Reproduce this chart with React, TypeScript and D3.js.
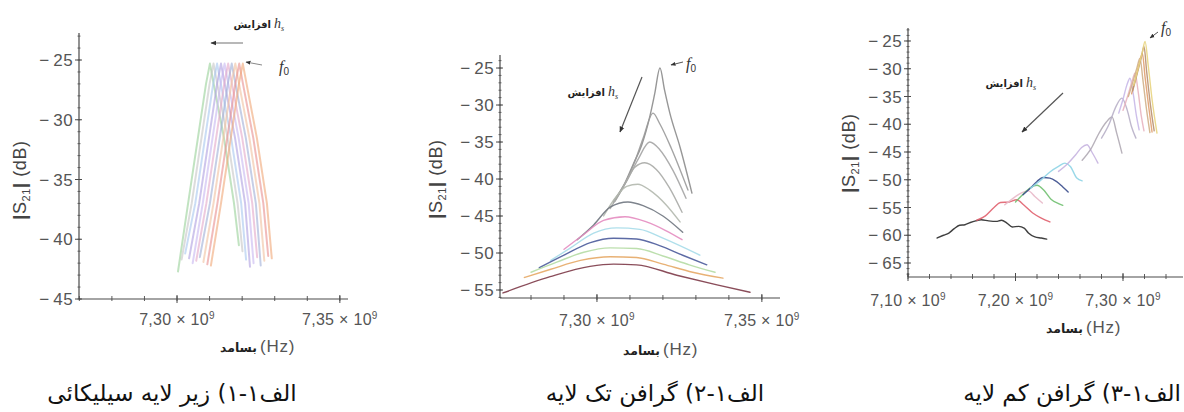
import React from 'react';
import * as d3 from 'd3';

// ---- panel 1: silicon substrate (resonance shifts left with h_s) ----
const p1Colors = ['#98d098', '#c4c4c4', '#a6c6ee', '#ae9ee0', '#c6b6f0', '#e2a6c8', '#9eaed6', '#f0c09e', '#e88e8e', '#f0a676'];
const p1Freqs = [
  [7.3003, 7.3034, 7.3067, 7.3089, 7.3101, 7.3116, 7.3144, 7.3175, 7.3190],
  [7.3014, 7.3045, 7.3078, 7.3100, 7.3112, 7.3127, 7.3155, 7.3186, 7.3201],
  [7.3025, 7.3056, 7.3089, 7.3111, 7.3123, 7.3138, 7.3166, 7.3197, 7.3212],
  [7.3037, 7.3068, 7.3101, 7.3123, 7.3135, 7.3150, 7.3178, 7.3209, 7.3224],
  [7.3048, 7.3079, 7.3112, 7.3134, 7.3146, 7.3161, 7.3189, 7.3220, 7.3235],
  [7.3059, 7.3090, 7.3123, 7.3145, 7.3157, 7.3172, 7.3200, 7.3231, 7.3246],
  [7.3070, 7.3101, 7.3134, 7.3156, 7.3168, 7.3183, 7.3211, 7.3242, 7.3257],
  [7.3081, 7.3112, 7.3145, 7.3167, 7.3179, 7.3194, 7.3222, 7.3253, 7.3268],
  [7.3093, 7.3124, 7.3157, 7.3179, 7.3191, 7.3206, 7.3234, 7.3265, 7.3280],
  [7.3104, 7.3135, 7.3168, 7.3190, 7.3202, 7.3217, 7.3245, 7.3276, 7.3291],
];
const p1Levels = [
  [-42.7, -37.0, -31.0, -27.0, -25.3, -27.5, -31.5, -37.0, -40.5],
  [-41.7, -37.0, -31.0, -27.0, -25.3, -27.5, -31.5, -37.0, -41.0],
  [-41.2, -37.0, -31.0, -27.0, -25.3, -27.5, -31.5, -37.0, -41.7],
  [-41.6, -37.0, -31.0, -27.0, -25.3, -27.5, -31.5, -37.0, -42.3],
  [-42.0, -37.0, -31.0, -27.0, -25.3, -27.5, -31.5, -37.0, -42.0],
  [-41.8, -37.0, -31.0, -27.0, -25.3, -27.5, -31.5, -37.0, -41.5],
  [-41.5, -37.0, -31.0, -27.0, -25.3, -27.5, -31.5, -37.0, -42.2],
  [-41.9, -37.0, -31.0, -27.0, -25.3, -27.5, -31.5, -37.0, -41.8],
  [-42.1, -37.0, -31.0, -27.0, -25.3, -27.5, -31.5, -37.0, -41.4],
  [-42.2, -37.0, -31.0, -27.0, -25.3, -27.5, -31.5, -37.0, -41.6],
];
const p1YTicks = [-25, -30, -35, -40, -45];
const p1XTicks = [7.30, 7.35];

// ---- panel 2: single layer graphene ----
const p2Colors = ['#8c8c8c', '#9a9a9a', '#a4a4a4', '#a9aaa6', '#b3b8ae', '#6f7580', '#e48cc0', '#a6dbe9', '#4b5b9b', '#b5dca4', '#e6a866', '#7d3a48'];
const p2Freqs = [
  [7.3050, 7.3085, 7.3110, 7.3135, 7.3160, 7.3175, 7.3191, 7.3205, 7.3221, 7.3252, 7.3288],
  [7.3055, 7.3090, 7.3115, 7.3140, 7.3170, 7.3190, 7.3225, 7.3276],
  [7.3050, 7.3090, 7.3125, 7.3160, 7.3190, 7.3230, 7.3270],
  [7.3040, 7.3085, 7.3115, 7.3145, 7.3180, 7.3220, 7.3258],
  [7.3020, 7.3060, 7.3090, 7.3124, 7.3160, 7.3210, 7.3252],
  [7.2940, 7.2990, 7.3040, 7.3094, 7.3140, 7.3200, 7.3260],
  [7.2900, 7.2960, 7.3020, 7.3085, 7.3150, 7.3210, 7.3258],
  [7.2860, 7.2920, 7.2990, 7.3060, 7.3130, 7.3200, 7.3312],
  [7.2825, 7.2900, 7.2980, 7.3050, 7.3120, 7.3190, 7.3260, 7.3333],
  [7.2800, 7.2880, 7.2960, 7.3040, 7.3120, 7.3200, 7.3280, 7.3358],
  [7.2780, 7.2860, 7.2950, 7.3040, 7.3120, 7.3200, 7.3290, 7.3382],
  [7.2715, 7.2858, 7.2979, 7.3050, 7.3120, 7.3242, 7.3364, 7.3464],
];
const p2Levels = [
  [-43.0, -40.5, -38.0, -35.5, -31.6, -28.5, -25.0, -28.0, -31.1, -35.7, -41.9],
  [-43.0, -40.2, -37.6, -34.5, -31.1, -32.5, -35.8, -41.5],
  [-43.2, -40.3, -37.3, -35.0, -36.0, -38.8, -42.6],
  [-44.0, -40.6, -38.4, -37.8, -38.7, -41.2, -44.5],
  [-45.0, -42.3, -41.0, -40.7, -41.5, -43.5, -45.8],
  [-48.2, -46.2, -43.8, -43.1, -43.6, -45.0, -47.2],
  [-49.5, -47.5, -45.6, -45.1, -45.8, -47.0, -48.2],
  [-51.0, -49.3, -47.3, -46.6, -46.8, -48.0, -50.3],
  [-52.0, -50.3, -48.6, -48.0, -48.1, -49.0, -50.3, -51.6],
  [-52.6, -51.2, -49.9, -49.3, -49.4, -50.4, -51.6, -52.6],
  [-53.3, -52.2, -51.0, -50.5, -50.6, -51.5, -52.6, -53.4],
  [-55.4, -53.2, -51.8, -51.5, -51.6, -53.0, -54.3, -55.3],
];
const p2YTicks = [-25, -30, -35, -40, -45, -50, -55];
const p2XTicks = [7.30, 7.35];

// ---- panel 3: few layer graphene ----
const p3Colors = ['#2a2a2a', '#e0606e', '#e8b8c8', '#70c070', '#3a4c8c', '#8ed4e6', '#c6b4e0', '#b0aab4', '#b8b0c8', '#c8b8e8', '#e8b4c0', '#d0b088', '#e0a070', '#b89070', '#e8d480'];
const p3Freqs = [
  [7.127, 7.133, 7.138, 7.143, 7.148, 7.153, 7.158, 7.163, 7.168, 7.175, 7.182, 7.187, 7.192, 7.197, 7.203, 7.208, 7.212, 7.218, 7.224, 7.229],
  [7.164, 7.172, 7.180, 7.186, 7.194, 7.201, 7.208, 7.216, 7.224, 7.232],
  [7.190, 7.198, 7.206, 7.212, 7.218, 7.225],
  [7.200, 7.207, 7.214, 7.220, 7.226, 7.233, 7.240, 7.244],
  [7.207, 7.214, 7.220, 7.2256, 7.232, 7.238, 7.244, 7.249],
  [7.214, 7.224, 7.232, 7.240, 7.246, 7.251, 7.257, 7.262],
  [7.240, 7.248, 7.256, 7.2615, 7.2665, 7.271, 7.2767],
  [7.262, 7.270, 7.278, 7.2845, 7.2898, 7.294, 7.299],
  [7.280, 7.287, 7.293, 7.299, 7.304, 7.308, 7.312],
  [7.296, 7.300, 7.3035, 7.3065, 7.3095, 7.3125, 7.315],
  [7.300, 7.305, 7.3085, 7.3112, 7.314, 7.317, 7.3195],
  [7.305, 7.309, 7.313, 7.3158, 7.3185, 7.322, 7.325],
  [7.308, 7.312, 7.3155, 7.318, 7.3205, 7.324, 7.327],
  [7.309, 7.313, 7.317, 7.3195, 7.322, 7.3255, 7.329],
  [7.310, 7.314, 7.318, 7.3205, 7.3235, 7.327, 7.3316],
];
const p3Levels = [
  [-60.5, -60.0, -59.6, -58.8, -58.2, -58.1, -57.7, -57.4, -57.2, -57.4, -57.5, -57.3, -57.8, -58.5, -58.4, -58.7, -59.6, -60.3, -60.5, -60.7],
  [-57.3, -56.5, -55.0, -54.1, -54.0, -53.6, -54.6, -56.0, -56.9, -57.6],
  [-54.5, -53.3, -52.3, -52.0, -53.0, -54.2],
  [-54.0, -52.6, -51.4, -51.0, -51.8, -53.5, -54.3, -54.6],
  [-52.7, -51.5, -50.3, -49.6, -49.7, -50.3, -51.3, -52.2],
  [-51.5, -50.0, -48.6, -47.6, -47.0, -47.6, -49.7, -50.2],
  [-48.5, -47.2, -45.5, -44.2, -43.7, -45.0, -47.0],
  [-46.5, -44.5, -41.5, -39.6, -38.7, -41.5, -45.2],
  [-42.5, -40.0, -37.0, -35.3, -37.5, -40.5, -42.5],
  [-38.0, -35.5, -33.0, -31.7, -34.5, -38.5, -41.0],
  [-37.5, -34.5, -32.2, -30.8, -34.0, -38.5, -41.2],
  [-35.0, -32.5, -29.8, -28.1, -32.0, -37.5, -41.5],
  [-34.5, -31.5, -28.8, -27.2, -31.5, -37.0, -41.4],
  [-34.0, -31.0, -28.0, -26.0, -30.5, -36.5, -41.2],
  [-33.0, -30.0, -27.0, -25.1, -29.5, -35.5, -41.6],
];
const p3YTicks = [-25, -30, -35, -40, -45, -50, -55, -60, -65];
const p3XTicks = [7.10, 7.20, 7.30];

const captions = ['الف۱-۱) زیر لایه سیلیکائی', 'الف۱-۲) گرافن تک لایه', 'الف۱-۳) گرافن کم لایه'];
const riseText = 'افزایش';
const freqText = 'بسامد';

const SANS = '"Liberation Sans", Arial, sans-serif';
const AXIS = '#4a4a4a';
const LABEL = '#555';

type PanelProps = {
  freqs: number[][];
  levels: number[][];
  colors: string[];
  xDomain: [number, number];
  xRange: [number, number];
  yDomain: [number, number];
  yRange: [number, number];
  xTicks: number[];
  yTicks: number[];
  xMinor: number;
  curve: d3.CurveFactory;
  width: number;
  opacity: number;
  yLabelX: number;
  yLabelY: number;
  xLabelX: number;
  xLabelY: number;
  tickLabelY: number;
};

function Panel(p: PanelProps) {
  const x = d3.scaleLinear().domain(p.xDomain).range(p.xRange);
  const y = d3.scaleLinear().domain(p.yDomain).range(p.yRange);
  const x0 = p.xRange[0];
  const y0 = p.yRange[0];
  const line = d3.line<[number, number]>().x(d => x(d[0])).y(d => y(d[1])).curve(p.curve);
  const minorY = d3.range(Math.ceil(p.yDomain[0]), p.yDomain[1], 1);
  const minorX = d3.range(0, 60).map(i => +(p.xTicks[0] + (i - 30) * p.xMinor).toFixed(4))
    .filter(v => v >= p.xDomain[0] - 1e-6 && v <= p.xDomain[1]);

  return (
    <g>
      {p.freqs.map((fs, i) => (
        <path key={i} d={line(fs.map((f, j) => [f, p.levels[i][j]]) as [number, number][]) || ''}
          fill="none" stroke={p.colors[i]} strokeWidth={p.width} strokeOpacity={p.opacity}
          strokeLinejoin="round" strokeLinecap="round" />
      ))}
      {/* axes */}
      <line x1={x0} x2={x0} y1={y0} y2={p.yRange[1]} stroke={AXIS} strokeWidth={1.2} />
      <line x1={x0} x2={p.xRange[1]} y1={y0} y2={y0} stroke={AXIS} strokeWidth={1.2} />
      {minorY.map(v => (
        <line key={'my' + v} x1={x0 - 1.5} x2={x0 + 1.5} y1={y(v)} y2={y(v)} stroke={AXIS} strokeWidth={0.8} />
      ))}
      {p.yTicks.map(v => (
        <g key={'y' + v}>
          <line x1={x0 - 4} x2={x0 + 3} y1={y(v)} y2={y(v)} stroke={AXIS} strokeWidth={1} />
          <text x={x0 - 6} y={y(v)} dy="0.36em" textAnchor="end" fontFamily={SANS} fontSize={17}
            letterSpacing={0.4} fill={LABEL}>
            {'\u2212\u2009' + Math.abs(v)}
          </text>
        </g>
      ))}
      {minorX.map(v => (
        <line key={'mx' + v} x1={x(v)} x2={x(v)} y1={y0 - 3} y2={y0 + 2} stroke={AXIS} strokeWidth={0.9} />
      ))}
      {p.xTicks.map(v => (
        <g key={'x' + v}>
          <line x1={x(v)} x2={x(v)} y1={y0 - 4} y2={y0 + 4} stroke={AXIS} strokeWidth={1} />
          <text x={x(v)} y={p.tickLabelY} textAnchor="middle" fontFamily={SANS} fontSize={16}
            letterSpacing={0.3} fill={LABEL}>
            {v.toFixed(2).replace('.', ',') + ' \u00d7 10'}
            <tspan fontSize={10} dy={-6}>9</tspan>
          </text>
        </g>
      ))}
      {/* axis titles */}
      <text transform={`translate(${p.yLabelX},${p.yLabelY}) rotate(-90)`} textAnchor="middle" dy="0.35em"
        fontFamily={SANS} fontSize={18} letterSpacing={0.6} fill="#444">
        <tspan fontWeight="bold">|</tspan>S<tspan fontSize={11} dy={4}>21</tspan>
        <tspan dy={-4} fontWeight="bold">|</tspan>{'  (dB)'}
      </text>
      <text x={p.xLabelX - 3} y={p.xLabelY} textAnchor="end" fontFamily='"DejaVu Sans", sans-serif'
        fontWeight="bold" fontSize={12.5} fill="#222">{freqText}</text>
      <text x={p.xLabelX} y={p.xLabelY} textAnchor="start" fontFamily={SANS} fontSize={17}
        letterSpacing={0.8} fill={LABEL}>(Hz)</text>
    </g>
  );
}

function Rise({ x, y }: { x: number; y: number }) {
  return (
    <g>
      <text x={x - 2} y={y} textAnchor="end" fontFamily='"DejaVu Sans", sans-serif' fontWeight="bold" fontSize={10} fill="#222">
        {riseText}
      </text>
      <text x={x + 1} y={y} fontFamily='"Liberation Serif", serif' fontStyle="italic" fontSize={14} fill="#333">
        h<tspan fontSize={8} dy={3}>s</tspan>
      </text>
    </g>
  );
}

function F0({ x, y }: { x: number; y: number }) {
  return (
    <text x={x} y={y} fontFamily='"Liberation Serif", serif' fontStyle="italic" fontSize={16} fill="#333">
      f<tspan fontStyle="normal" fontFamily={SANS} fontSize={10} dy={3}>0</tspan>
    </text>
  );
}

export default function App() {
  return (
    <svg width={1184} height={412} style={{ position: 'absolute', left: 0, top: 0, background: '#fff' }}>
      <defs>
        <marker id="ah" viewBox="0 0 10 10" refX="9" refY="5" markerWidth="5" markerHeight="5" orient="auto">
          <path d="M0,1 L10,5 L0,9 z" fill="#333" />
        </marker>
      </defs>
      <rect width={1184} height={412} fill="#fff" />

      <Panel freqs={p1Freqs} levels={p1Levels} colors={p1Colors}
        xDomain={[7.2699, 7.3525]} xRange={[79, 348]} yDomain={[-45, -22.74]} yRange={[299, 33]}
        xTicks={p1XTicks} yTicks={p1YTicks} xMinor={0.01} curve={d3.curveLinear} width={2} opacity={0.6}
        yLabelX={20} yLabelY={180} xLabelX={260} xLabelY={352} tickLabelY={325} />
      <Panel freqs={p2Freqs} levels={p2Levels} colors={p2Colors}
        xDomain={[7.2706, 7.3555]} xRange={[500, 780]} yDomain={[-56.08, -23.24]} yRange={[298, 55]}
        xTicks={p2XTicks} yTicks={p2YTicks} xMinor={0.01} curve={d3.curveMonotoneX} width={1.4} opacity={0.9}
        yLabelX={436} yLabelY={179} xLabelX={663} xLabelY={355} tickLabelY={326} />
      <Panel freqs={p3Freqs} levels={p3Levels} colors={p3Colors}
        xDomain={[7.10, 7.3558]} xRange={[908, 1183]} yDomain={[-67.52, -22.66]} yRange={[277, 28]}
        xTicks={p3XTicks} yTicks={p3YTicks} xMinor={0.02} curve={d3.curveMonotoneX} width={1.4} opacity={0.9}
        yLabelX={849} yLabelY={153} xLabelX={1086} xLabelY={333} tickLabelY={306} />

      {/* annotations panel 1 */}
      <Rise x={273} y={28} />
      <line x1={243} y1={43} x2={211} y2={43} stroke="#888" strokeWidth={1.2} markerEnd="url(#ah)" />
      <line x1={262} y1={65} x2={246} y2={62} stroke="#888" strokeWidth={1} markerEnd="url(#ah)" />
      <F0 x={279} y={72} />
      {/* annotations panel 2 */}
      <Rise x={607} y={96} />
      <line x1={642} y1={77} x2={620} y2={132} stroke="#555" strokeWidth={1.2} markerEnd="url(#ah)" />
      <line x1={683} y1={62} x2={671} y2={65} stroke="#555" strokeWidth={1} markerEnd="url(#ah)" />
      <F0 x={686} y={69} />
      {/* annotations panel 3 */}
      <Rise x={1025} y={87} />
      <line x1={1063} y1={93} x2={1022} y2={132} stroke="#555" strokeWidth={1.2} markerEnd="url(#ah)" />
      <line x1={1158} y1={32} x2={1150} y2={38} stroke="#555" strokeWidth={1} markerEnd="url(#ah)" />
      <F0 x={1161} y={33} />

      {/* captions */}
      <text x={172} y={401} textAnchor="middle" fontFamily='"DejaVu Sans", sans-serif' fontSize={23} fill="#111">
        {captions[0]}
      </text>
      <text x={655} y={401} textAnchor="middle" fontFamily='"DejaVu Sans", sans-serif' fontSize={23} fill="#111">
        {captions[1]}
      </text>
      <text x={1181} y={401} textAnchor="end" fontFamily='"DejaVu Sans", sans-serif' fontSize={23} fill="#111">
        {captions[2]}
      </text>
    </svg>
  );
}
